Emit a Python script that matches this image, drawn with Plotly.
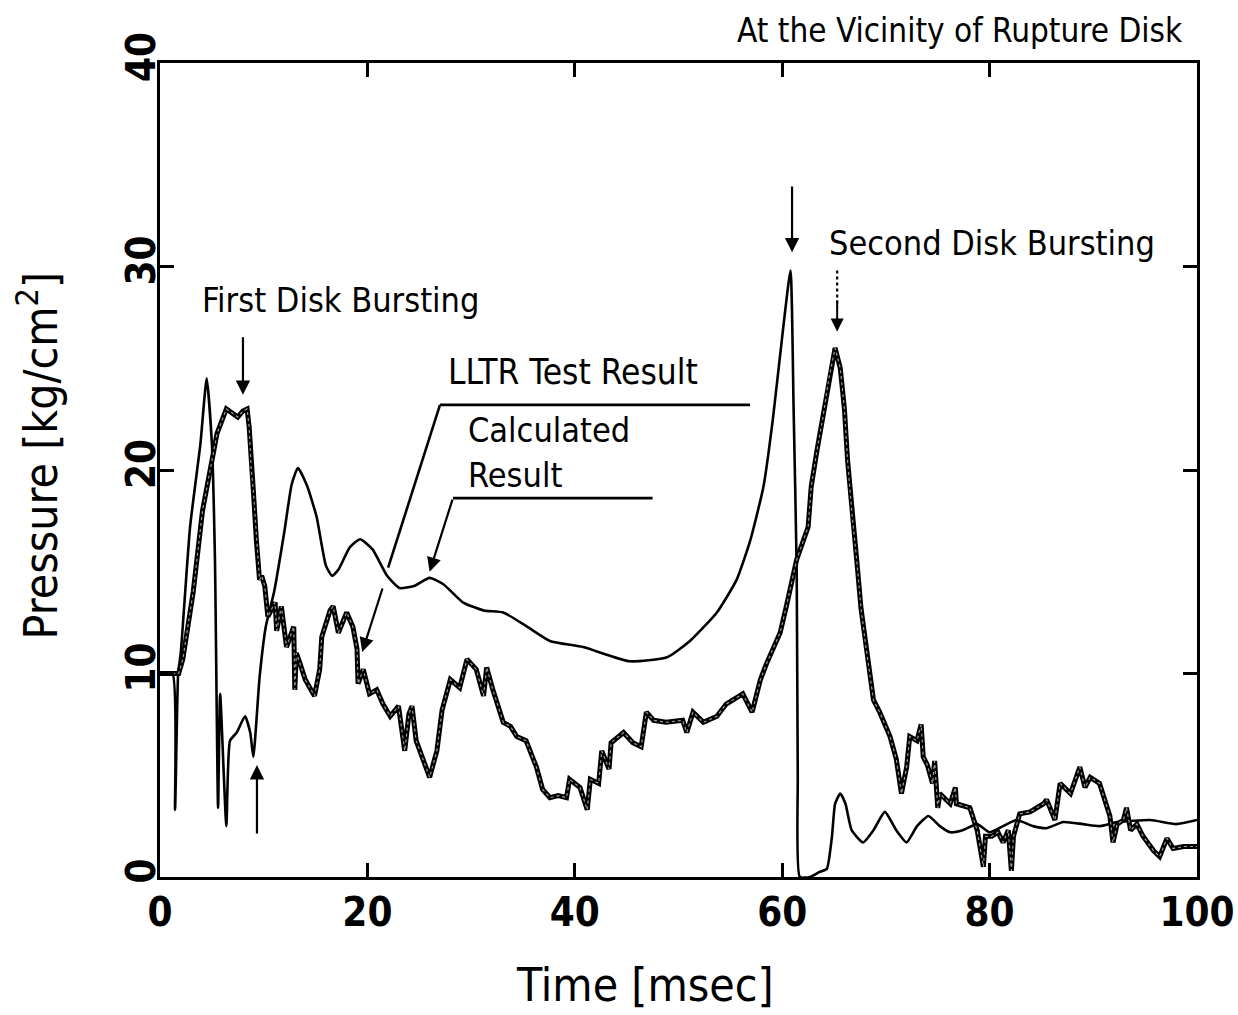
import plotly.graph_objects as go

# ---- data ----
calc_t = [0, 1.2, 1.45, 1.75, 2.0, 2.9, 3.9, 4.5, 5.0, 5.3, 5.6, 5.8, 6.4, 6.75, 7.4, 8.2, 8.7, 9.0,
          9.6, 10.2, 11.0, 12.0, 12.7, 13.3, 14.2, 15.1, 16.0, 16.6, 17.2, 18.3, 19.3, 20.5, 21.9,
          23.1, 24.5, 26.0, 27.3, 29.2, 31.2, 33.1, 35.4, 37.6, 40.8, 45.3, 48.9, 51.1, 53.7, 55.6,
          56.9, 58.2, 59.1, 60.1, 60.8, 61.1, 61.4, 61.5, 61.7, 62.7, 63.6, 64.3, 64.8, 65.1, 65.6,
          66.1, 66.7, 67.8, 68.8, 69.9, 71.0, 72.0, 73.0, 74.1, 75.2, 76.2, 77.4, 78.8, 80.0, 81.3,
          82.6, 84.2, 85.5, 87.1, 89.0, 90.6, 92.3, 95.5, 98.0, 100]
calc_p = [10, 10, 3.3, 10, 11, 17.2, 21.3, 24.5, 21.3, 15.6, 3.4, 9.0, 2.5, 6.7, 7.1, 7.9, 7.1, 5.9,
          9.8, 12.3, 14.0, 17.0, 19.3, 20.1, 19.2, 17.7, 15.3, 14.8, 15.1, 16.2, 16.6, 16.1, 14.8,
          14.2, 14.3, 14.7, 14.4, 13.5, 13.1, 13.0, 12.3, 11.6, 11.3, 10.6, 10.8, 11.6, 13.0, 14.6,
          16.5, 19.2, 22.5, 27.0, 29.8, 23.0, 15.0, 5.0, 0, 0, 0.25, 0.4, 2.0, 3.6, 4.1,
          3.6, 2.3, 1.7, 2.3, 3.2, 2.3, 1.7, 2.5, 3.0, 2.5, 2.2, 2.3, 2.6, 2.2, 2.5,
          2.8, 2.5, 2.4, 2.7, 2.6, 2.5, 2.7, 2.8, 2.6, 2.8]

test_t = [0, 1.8, 2.2, 3.2, 4.1, 5.0, 5.5, 6.4, 7.0, 7.5, 8.0, 8.4, 8.6, 8.8, 9.0, 9.3, 9.6, 9.8,
          10.1, 10.4, 11.1, 11.25, 11.7, 12.2, 12.9, 13.0, 13.15, 13.5, 14.0, 14.9, 15.4, 15.6,
          16.4, 16.7, 17.2, 18.0, 18.6, 19.0, 19.1, 19.6, 20.2, 20.9, 21.5, 22.2, 23.0, 23.6,
          24.0, 24.3, 24.7, 26.0, 26.7, 27.2, 28.0, 28.9, 29.6, 30.5, 31.2, 31.5, 32.1, 33.1,
          33.8, 34.4, 35.3, 36.3, 36.9, 37.6, 38.4, 39.2, 39.5, 40.5, 41.2, 41.5, 42.3, 42.6,
          43.3, 43.5, 44.7, 45.6, 46.4, 46.9, 47.6, 48.8, 50.4, 50.8, 51.4, 52.4, 53.7, 54.6,
          56.2, 57.1, 57.9, 58.5, 59.8, 60.4, 61.4, 62.5, 62.8, 63.4, 63.9, 64.5, 65.1, 65.6,
          66.0, 66.3, 66.7, 67.2, 67.6, 68.1, 68.8, 69.4, 70.4, 71.0, 71.5, 72.0, 72.3, 73.0,
          73.4, 73.6, 74.0, 74.5, 74.7, 75.0, 75.2, 76.2, 76.7, 76.8, 78.1, 78.8, 79.4, 79.6,
          80.2, 80.8, 81.3, 81.8, 82.1, 82.3, 82.9, 83.9, 85.2, 85.5, 86.3, 86.8, 87.8, 88.7,
          89.2, 89.7, 90.6, 91.1, 91.6, 91.9, 92.3, 92.9, 93.2, 93.6, 94.2, 94.8, 95.8, 96.4,
          97.1, 97.7, 98.7, 100]
test_p = [10, 10, 10.7, 14.0, 18.0, 20.5, 21.8, 23.0, 22.8, 22.6, 22.9, 23.0, 22.1, 20.0, 19.0,
          16.5, 14.6, 14.8, 14.3, 12.8, 13.5, 12.1, 13.3, 11.3, 12.3, 9.2, 11.0, 10.5, 9.7, 8.9,
          10.2, 11.8, 13.1, 13.3, 12.0, 13.0, 12.3, 11.2, 9.5, 10.2, 9.0, 9.2, 8.5, 7.9, 8.4, 6.2,
          8.0, 8.4, 6.7, 4.9, 6.2, 8.2, 9.7, 9.3, 10.7, 10.2, 8.9, 10.3, 9.2, 7.6,
          7.4, 6.9, 6.7, 5.4, 4.3, 3.9, 4.0, 3.9, 4.8, 4.4, 3.3, 4.8, 4.6, 6.2,
          5.3, 6.6, 7.1, 6.6, 6.4, 8.1, 7.7, 7.6, 7.7, 7.1, 8.1, 7.6, 7.9, 8.5,
          9.0, 8.1, 9.7, 10.5, 12.0, 13.3, 15.6, 17.2, 19.2, 21.1, 22.5, 24.5, 26.0, 25.0,
          23.0, 20.5, 18.0, 15.5, 13.2, 11.2, 8.7, 8.1, 6.9, 5.8, 4.1, 5.4, 6.9, 6.7,
          7.5, 5.9, 5.5, 4.6, 5.7, 3.4, 4.1, 3.6, 4.4, 3.6, 3.4, 2.3, 0.5, 2.0,
          2.0, 2.2, 1.7, 2.3, 0.3, 2.0, 3.1, 3.2, 3.6, 3.8, 2.8, 4.6, 4.1, 5.4,
          4.4, 4.9, 4.6, 3.8, 3.0, 1.7, 2.6, 2.8, 3.4, 2.3, 2.6, 2.0, 1.3, 1.0,
          1.9, 1.4, 1.5, 1.5]

x_ticks = [0, 20, 40, 60, 80, 100]
y_ticks = [0, 10, 20, 30, 40]

FONT = "Liberation Sans Narrow, DejaVu Sans Condensed, Arial Narrow, sans-serif"

fig = go.Figure()
fig.add_trace(go.Scatter(x=calc_t, y=calc_p, mode="lines", name="Calculated Result",
                         line=dict(color="black", width=2.6, shape="spline", smoothing=0.5)))
fig.add_trace(go.Scatter(x=test_t, y=test_p, mode="lines", name="LLTR Test Result",
                         line=dict(color="black", width=5)))
fig.add_trace(go.Scatter(x=test_t, y=test_p, mode="lines", name="LLTR Test Result (core)",
                         line=dict(color="#9a9a9a", width=1.2, dash="dot"), hoverinfo="skip"))

axis_common = dict(showline=True, linecolor="black", linewidth=3, mirror="ticks",
                   ticks="inside", ticklen=14, tickwidth=3, tickcolor="black",
                   showgrid=False, zeroline=False, ticklabeloverflow="allow", automargin=False,
                   tickfont=dict(family=FONT, size=40, color="black", weight="bold"))

fig.update_xaxes(range=[0, 100], tickvals=x_ticks, ticktext=[str(v) for v in x_ticks],
                 ticklabelstandoff=-2, **axis_common)
fig.update_yaxes(range=[0, 40], tickvals=y_ticks, ticktext=[str(v) for v in y_ticks],
                 tickangle=-90, ticklabelstandoff=-14, **axis_common)

ann = []
def text(x, y, s, size=33, xanchor="left", xref="x", yref="y"):
    ann.append(dict(x=x, y=y, xref=xref, yref=yref, text=s, showarrow=False,
                    xanchor=xanchor, yanchor="middle",
                    font=dict(family=FONT, size=size, color="black")))

def arrow(x, y, ax, ay, w=2.2):
    ann.append(dict(x=x, y=y, ax=ax, ay=ay, xref="x", yref="y", axref="x", ayref="y",
                    text="", showarrow=True, arrowhead=2, arrowsize=1.3, arrowwidth=w,
                    arrowcolor="black"))

text(0.988, 1.0405, "At the Vicinity of Rupture Disk", size=33, xanchor="right", xref="paper", yref="paper")
text(3.86, 28.35, "First Disk Bursting", size=34)
text(27.6, 24.8, "LLTR Test Result", size=35)
text(29.5, 21.97, "Calculated", size=34)
text(29.5, 19.75, "Result", size=34)
text(64.3, 31.15, "Second Disk Bursting", size=34)

# axis titles
ann.append(dict(x=0.4677, y=-0.1327, xref="paper", yref="paper", text="Time [msec]", showarrow=False,
                xanchor="center", yanchor="middle",
                font=dict(family=FONT, size=46, color="black")))
ann.append(dict(x=-0.1176, y=0.518, xref="paper", yref="paper", text="Pressure [kg/cm<sup>2</sup>]",
                showarrow=False, textangle=-90, xanchor="center", yanchor="middle",
                font=dict(family=FONT, size=46, color="black")))

# arrows
arrow(8.0, 23.7, 8.0, 26.6)           # first disk bursting
arrow(9.35, 5.5, 9.35, 2.06)          # upward arrow
arrow(60.95, 30.7, 60.95, 34.0)       # calc peak
arrow(65.3, 26.8, 65.3, 28.4, w=2.0)  # second disk bursting (dotted shaft below)
arrow(19.5, 11.06, 21.5, 14.25)       # LLTR leader arrow
arrow(26.0, 15.0, 28.25, 18.62)       # calculated leader arrow
fig.update_layout(annotations=ann)

shapes = [
    dict(type="line", x0=65.3, x1=65.3, y0=29.8, y1=28.0, xref="x", yref="y",
         line=dict(color="black", width=2.2, dash="dot")),
    dict(type="line", x0=27.0, x1=56.9, y0=23.2, y1=23.2, xref="x", yref="y",
         line=dict(color="black", width=2.6)),
    dict(type="line", x0=27.0, x1=22.0, y0=23.2, y1=15.2, xref="x", yref="y",
         line=dict(color="black", width=2.6)),
    dict(type="line", x0=28.25, x1=47.5, y0=18.62, y1=18.62, xref="x", yref="y",
         line=dict(color="black", width=2.6)),
]
fig.update_layout(shapes=shapes)

fig.update_layout(width=1238, height=1015, margin=dict(l=160, r=41, t=63, b=138),
                  paper_bgcolor="white", plot_bgcolor="white", showlegend=False,
                  font=dict(family=FONT, color="black"))

fig.write_html("out.html")
